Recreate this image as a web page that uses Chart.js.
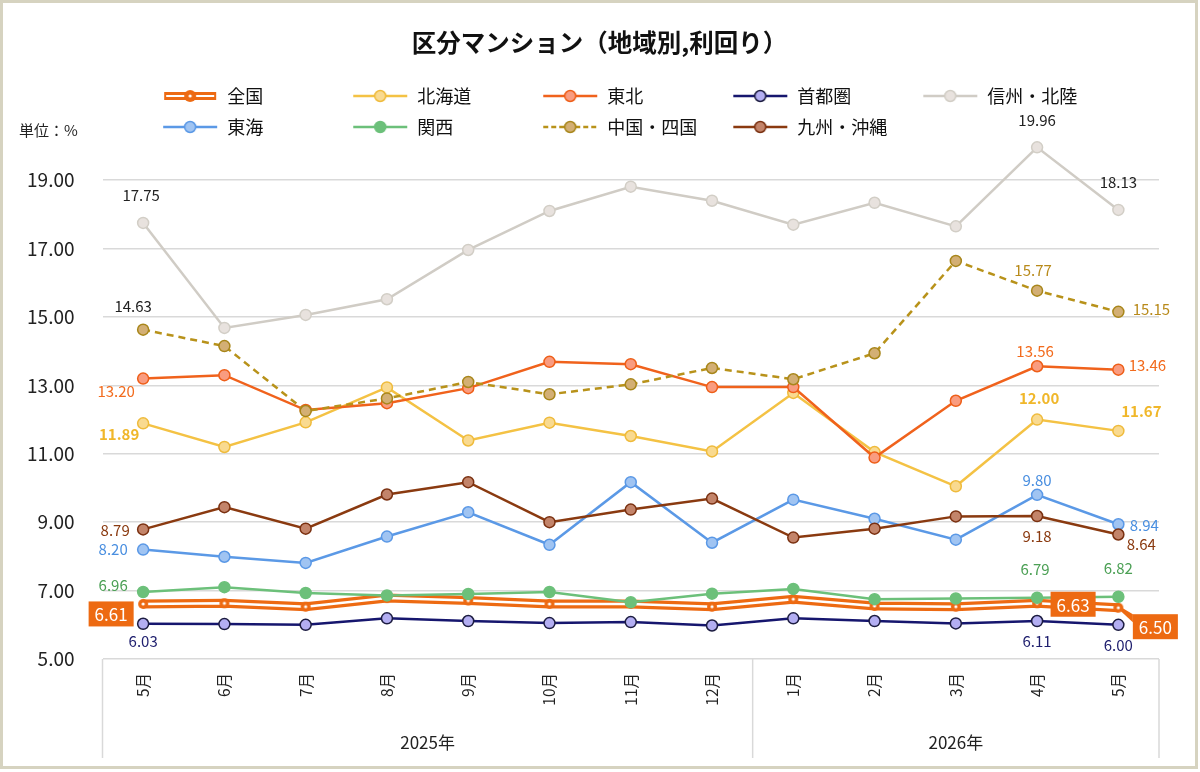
<!DOCTYPE html>
<html lang="ja">
<head>
<meta charset="UTF-8">
<title>区分マンション（地域別,利回り）</title>
<script src="https://cdn.jsdelivr.net/npm/chart.js@4"></script>
<style>
  html, body { margin: 0; padding: 0; background: #fff; }
  #wrap { position: relative; width: 1200px; height: 772px; }
</style>
</head>
<body>
<div id="wrap"><canvas id="chart"></canvas></div>
<script>
const months = ['5月', '6月', '7月', '8月', '9月', '10月', '11月', '12月', '1月', '2月', '3月', '4月', '5月'];
const yearLabels = ['2025年', '2026年'];
const yearMonthCounts = [8, 5];
const yTicks = [5, 7, 9, 11, 13, 15, 17, 19];

// 利回り (%)
const zenkoku  = [6.61, 6.63, 6.53, 6.78, 6.71, 6.61, 6.61, 6.53, 6.75, 6.55, 6.53, 6.63, 6.50];
const hokkaido = [11.89, 11.20, 11.92, 12.94, 11.39, 11.91, 11.52, 11.07, 12.78, 11.05, 10.05, 12.00, 11.67];
const tohoku   = [13.20, 13.30, 12.28, 12.48, 12.92, 13.69, 13.62, 12.95, 12.95, 10.89, 12.55, 13.56, 13.46];
const shutoken = [6.03, 6.02, 6.00, 6.19, 6.11, 6.05, 6.08, 5.98, 6.19, 6.11, 6.04, 6.11, 6.00];
const shinshu  = [17.75, 14.68, 15.06, 15.52, 16.96, 18.10, 18.81, 18.40, 17.70, 18.34, 17.65, 19.96, 18.13];
const tokai    = [8.20, 7.99, 7.81, 8.58, 9.29, 8.34, 10.17, 8.40, 9.66, 9.10, 8.49, 9.80, 8.94];
const kansai   = [6.96, 7.10, 6.93, 6.86, 6.90, 6.96, 6.66, 6.91, 7.05, 6.75, 6.77, 6.79, 6.82];
const chugoku  = [14.63, 14.15, 12.25, 12.62, 13.10, 12.74, 13.03, 13.51, 13.18, 13.94, 16.64, 15.77, 15.15];
const kyushu   = [8.79, 9.44, 8.81, 9.81, 10.17, 9.00, 9.37, 9.69, 8.55, 8.81, 9.17, 9.18, 8.64];

const FONT = "'Noto Sans CJK JP', 'Noto Sans', sans-serif";
const ORANGE = '#ED6A12';

const styles = {
    '北海道':   { line: '#F4C244', fill: '#F9DA90', edge: '#EFBB3C', text: '#F0B72A', bold: true },
    '東北':     { line: '#F0621C', fill: '#F99C80', edge: '#EE5E18', text: '#F26B1D' },
    '首都圏':   { line: '#16166E', fill: '#B3AEF2', edge: '#1C1C40', text: '#1F1F6E' },
    '信州・北陸': { line: '#D0CCC5', fill: '#E8E2DE', edge: '#D2CEC6', text: '#222222' },
    '東海':     { line: '#5B99E6', fill: '#A0C4F2', edge: '#5A98E6', text: '#4A8FE0' },
    '関西':     { line: '#6CC07A', fill: '#6CC07A', edge: '#6CC07A', text: '#4CA055' },
    '中国・四国': { line: '#B8921A', fill: '#D3AF74', edge: '#A8861A', text: '#B88A1A', dash: [7, 5] },
    '九州・沖縄': { line: '#8A3A10', fill: '#C3846A', edge: '#7A3010', text: '#8A3A10' }
};

function lineDataset(label, data, order) {
    const st = styles[label];
    return {
        label, data, order,
        borderColor: st.line,
        borderWidth: 2.5,
        borderDash: st.dash || [],
        pointRadius: 5.5,
        pointBackgroundColor: st.fill,
        pointBorderColor: st.edge,
        pointBorderWidth: 1.5,
        tension: 0,
        clip: false
    };
}

// 全国 marker: orange circle with white dot
function zenkokuMarker(r) {
    const c = document.createElement('canvas');
    c.width = c.height = r * 2 + 2;
    const g = c.getContext('2d');
    g.fillStyle = ORANGE;
    g.beginPath(); g.arc(r + 1, r + 1, r, 0, Math.PI * 2); g.fill();
    g.fillStyle = '#fff';
    g.beginPath(); g.arc(r + 1, r + 1, 1.6, 0, Math.PI * 2); g.fill();
    return c;
}

const datasets = [
    { label: '全国', data: zenkoku, order: 20, borderColor: ORANGE, borderWidth: 9, pointRadius: 0, clip: false },
    { label: '全国_inner', data: zenkoku, order: 19, borderColor: '#fff', borderWidth: 2.5,
      pointStyle: zenkokuMarker(5), pointRadius: 5, clip: false },
    lineDataset('北海道', hokkaido, 18),
    lineDataset('東北', tohoku, 17),
    lineDataset('首都圏', shutoken, 16),
    lineDataset('信州・北陸', shinshu, 15),
    lineDataset('東海', tokai, 14),
    lineDataset('関西', kansai, 13),
    lineDataset('中国・四国', chugoku, 12),
    lineDataset('九州・沖縄', kyushu, 11),
    { label: '', data: [], order: 30, showLine: false } // empty slot so both legend rows line up
];

// legend icons (line + marker)
function legendIcon(label) {
    const c = document.createElement('canvas');
    c.width = 56; c.height = 18;
    const g = c.getContext('2d');
    if (label === '') return c;
    if (label === '全国') {
        g.strokeStyle = ORANGE; g.lineWidth = 8;
        g.beginPath(); g.moveTo(2, 9); g.lineTo(54, 9); g.stroke();
        g.strokeStyle = '#fff'; g.lineWidth = 2;
        g.beginPath(); g.moveTo(4, 9); g.lineTo(52, 9); g.stroke();
        g.drawImage(zenkokuMarker(6), 28 - 7, 9 - 7);
        return c;
    }
    const st = styles[label];
    g.strokeStyle = st.line; g.lineWidth = 2.5;
    g.setLineDash(st.dash ? [5, 3] : []);
    g.beginPath(); g.moveTo(1, 9); g.lineTo(55, 9); g.stroke();
    g.setLineDash([]);
    g.fillStyle = st.fill; g.strokeStyle = st.edge; g.lineWidth = 1.5;
    g.beginPath(); g.arc(28, 9, 5.5, 0, Math.PI * 2); g.fill(); g.stroke();
    return c;
}

// every legend text is padded to the same width so the columns line up
function padLabel(t) {
    return t + '\u3000'.repeat(5 - [...t].length) + '\u3000 ';
}

// value labels: [dataset index, point index, dx, dy, colour override]
const valueLabels = [
    [5, 0, -2, -28], [5, 11, 0, -27], [5, 12, 0, -28],
    [8, 0, -10, -23, '#222222'], [8, 11, -4, -20], [8, 12, 33, -3],
    [3, 0, -27, 13], [3, 11, -2, -15], [3, 12, 29, -4],
    [2, 0, -24, 11], [2, 11, 2, -21], [2, 12, 23, -20],
    [9, 0, -28, 1], [9, 11, 0, 20], [9, 12, 23, 10],
    [6, 0, -30, 0], [6, 11, 0, -15], [6, 12, 26, 1],
    [7, 0, -30, -7], [7, 11, -2, -28], [7, 12, 0, -28],
    [4, 0, 0, 18], [4, 11, 0, 20], [4, 12, 0, 20]
];
// 全国 boxed labels: [point index, dx, dy, leader]
const boxLabels = [[0, -32, 10, false], [11, 36, 1, false], [12, 37, 19, true]];

const decorPlugin = {
    id: 'decor',
    beforeDraw(chart) {
        const ctx = chart.ctx;
        ctx.save();
        ctx.fillStyle = '#fff';
        ctx.fillRect(0, 0, chart.width, chart.height);
        ctx.restore();
    },
    afterDraw(chart) {
        const ctx = chart.ctx;
        const x = chart.scales.x;
        const area = chart.chartArea;
        const bottom = 758;
        ctx.save();
        // x axis group box
        ctx.strokeStyle = '#D9D9D9';
        ctx.lineWidth = 1.5;
        let start = 0;
        const edges = [area.left];
        yearMonthCounts.forEach((n, k) => {
            const end = start + n - 1;
            const right = end < months.length - 1
                ? (x.getPixelForValue(end) + x.getPixelForValue(end + 1)) / 2
                : area.right;
            edges.push(right);
            ctx.fillStyle = '#222';
            ctx.font = '17px ' + FONT;
            ctx.textAlign = 'center';
            ctx.textBaseline = 'middle';
            ctx.fillText(yearLabels[k], (edges[k] + right) / 2, 743);
            start += n;
        });
        edges.forEach(px => {
            ctx.beginPath(); ctx.moveTo(px, area.bottom); ctx.lineTo(px, bottom); ctx.stroke();
        });
        // unit
        ctx.fillStyle = '#222';
        ctx.font = '15px ' + FONT;
        ctx.textAlign = 'left';
        ctx.fillText('単位：%', 19, 130);
        // frame
        ctx.strokeStyle = '#D6D3C0';
        ctx.lineWidth = 3;
        ctx.strokeRect(1.5, 1.5, 1195, 766);
        ctx.restore();
    },
    afterDatasetsDraw(chart) {
        const ctx = chart.ctx;
        ctx.save();
        ctx.textAlign = 'center';
        ctx.textBaseline = 'middle';
        valueLabels.forEach(([ds, i, dx, dy, color]) => {
            const label = chart.data.datasets[ds].label;
            const st = styles[label];
            const pt = chart.getDatasetMeta(ds).data[i];
            ctx.fillStyle = color || st.text;
            ctx.font = (st.bold ? '600 ' : '') + '15px ' + FONT;
            ctx.fillText(chart.data.datasets[ds].data[i].toFixed(2), pt.x + dx, pt.y + dy);
        });
        ctx.font = '17px ' + FONT;
        boxLabels.forEach(([i, dx, dy, leader]) => {
            const pt = chart.getDatasetMeta(1).data[i];
            const text = zenkoku[i].toFixed(2);
            const w = ctx.measureText(text).width + 12, h = 25;
            const cx = pt.x + dx, cy = pt.y + dy;
            ctx.fillStyle = ORANGE;
            if (leader) {
                ctx.beginPath();
                ctx.moveTo(pt.x + 2, pt.y - 1);
                ctx.lineTo(cx - w / 2, cy - h / 2);
                ctx.lineTo(cx - w / 2, cy - h / 2 + 8);
                ctx.lineTo(pt.x + 2, pt.y + 3);
                ctx.closePath();
                ctx.fill();
            }
            ctx.fillRect(cx - w / 2, cy - h / 2, w, h);
            ctx.fillStyle = '#fff';
            ctx.fillText(text, cx, cy + 1);
        });
        ctx.restore();
    }
};

Chart.defaults.font.family = FONT;

new Chart(document.getElementById('chart'), {
    type: 'line',
    data: { labels: months, datasets },
    options: {
        responsive: true,
        maintainAspectRatio: false,
        animation: false,
        layout: { padding: { top: 10, left: 10, right: 41, bottom: 13 } },
        plugins: {
            title: {
                display: true,
                // leading space nudges the title to the middle of the whole frame
                text: '\u3000 区分マンション（地域別,利回り）',
                color: '#111',
                font: { size: 24.5, weight: 'bold' },
                padding: { top: 18.3, bottom: 16.3 }
            },
            legend: {
                fullSize: false,
                labels: {
                    usePointStyle: true,
                    pointStyleWidth: 56,
                    padding: 13,
                    color: '#111',
                    font: { size: 18 },
                    generateLabels(chart) {
                        return chart.data.datasets.map((d, i) => ({ d, i }))
                            .filter(o => o.d.label !== '全国_inner')
                            .map(({ d, i }) => ({
                                text: padLabel(d.label),
                                pointStyle: legendIcon(d.label),
                                datasetIndex: i,
                                fillStyle: 'rgba(0,0,0,0)',
                                strokeStyle: 'rgba(0,0,0,0)',
                                lineWidth: 0,
                                hidden: false,
                                fontColor: '#111'
                            }));
                    }
                }
            },
            tooltip: { enabled: false }
        },
        scales: {
            x: {
                offset: true,
                grid: { display: false },
                border: { display: false },
                ticks: {
                    color: '#222',
                    font: { size: 15.5 },
                    maxRotation: 90,
                    minRotation: 90,
                    autoSkip: false,
                    padding: 6
                },
                afterFit(axis) { axis.height = 100; }
            },
            y: {
                min: 5,
                max: 20,
                border: { display: false },
                grid: { color: '#D9D9D9', lineWidth: 1.5, drawTicks: false },
                ticks: {
                    color: '#222',
                    font: { size: 19 },
                    padding: 28,
                    callback: v => v.toFixed(2)
                },
                afterBuildTicks(axis) { axis.ticks = yTicks.map(v => ({ value: v })); },
                afterFit(axis) { axis.width = 92.5; }
            }
        }
    },
    plugins: [decorPlugin]
});
</script>
</body>
</html>
